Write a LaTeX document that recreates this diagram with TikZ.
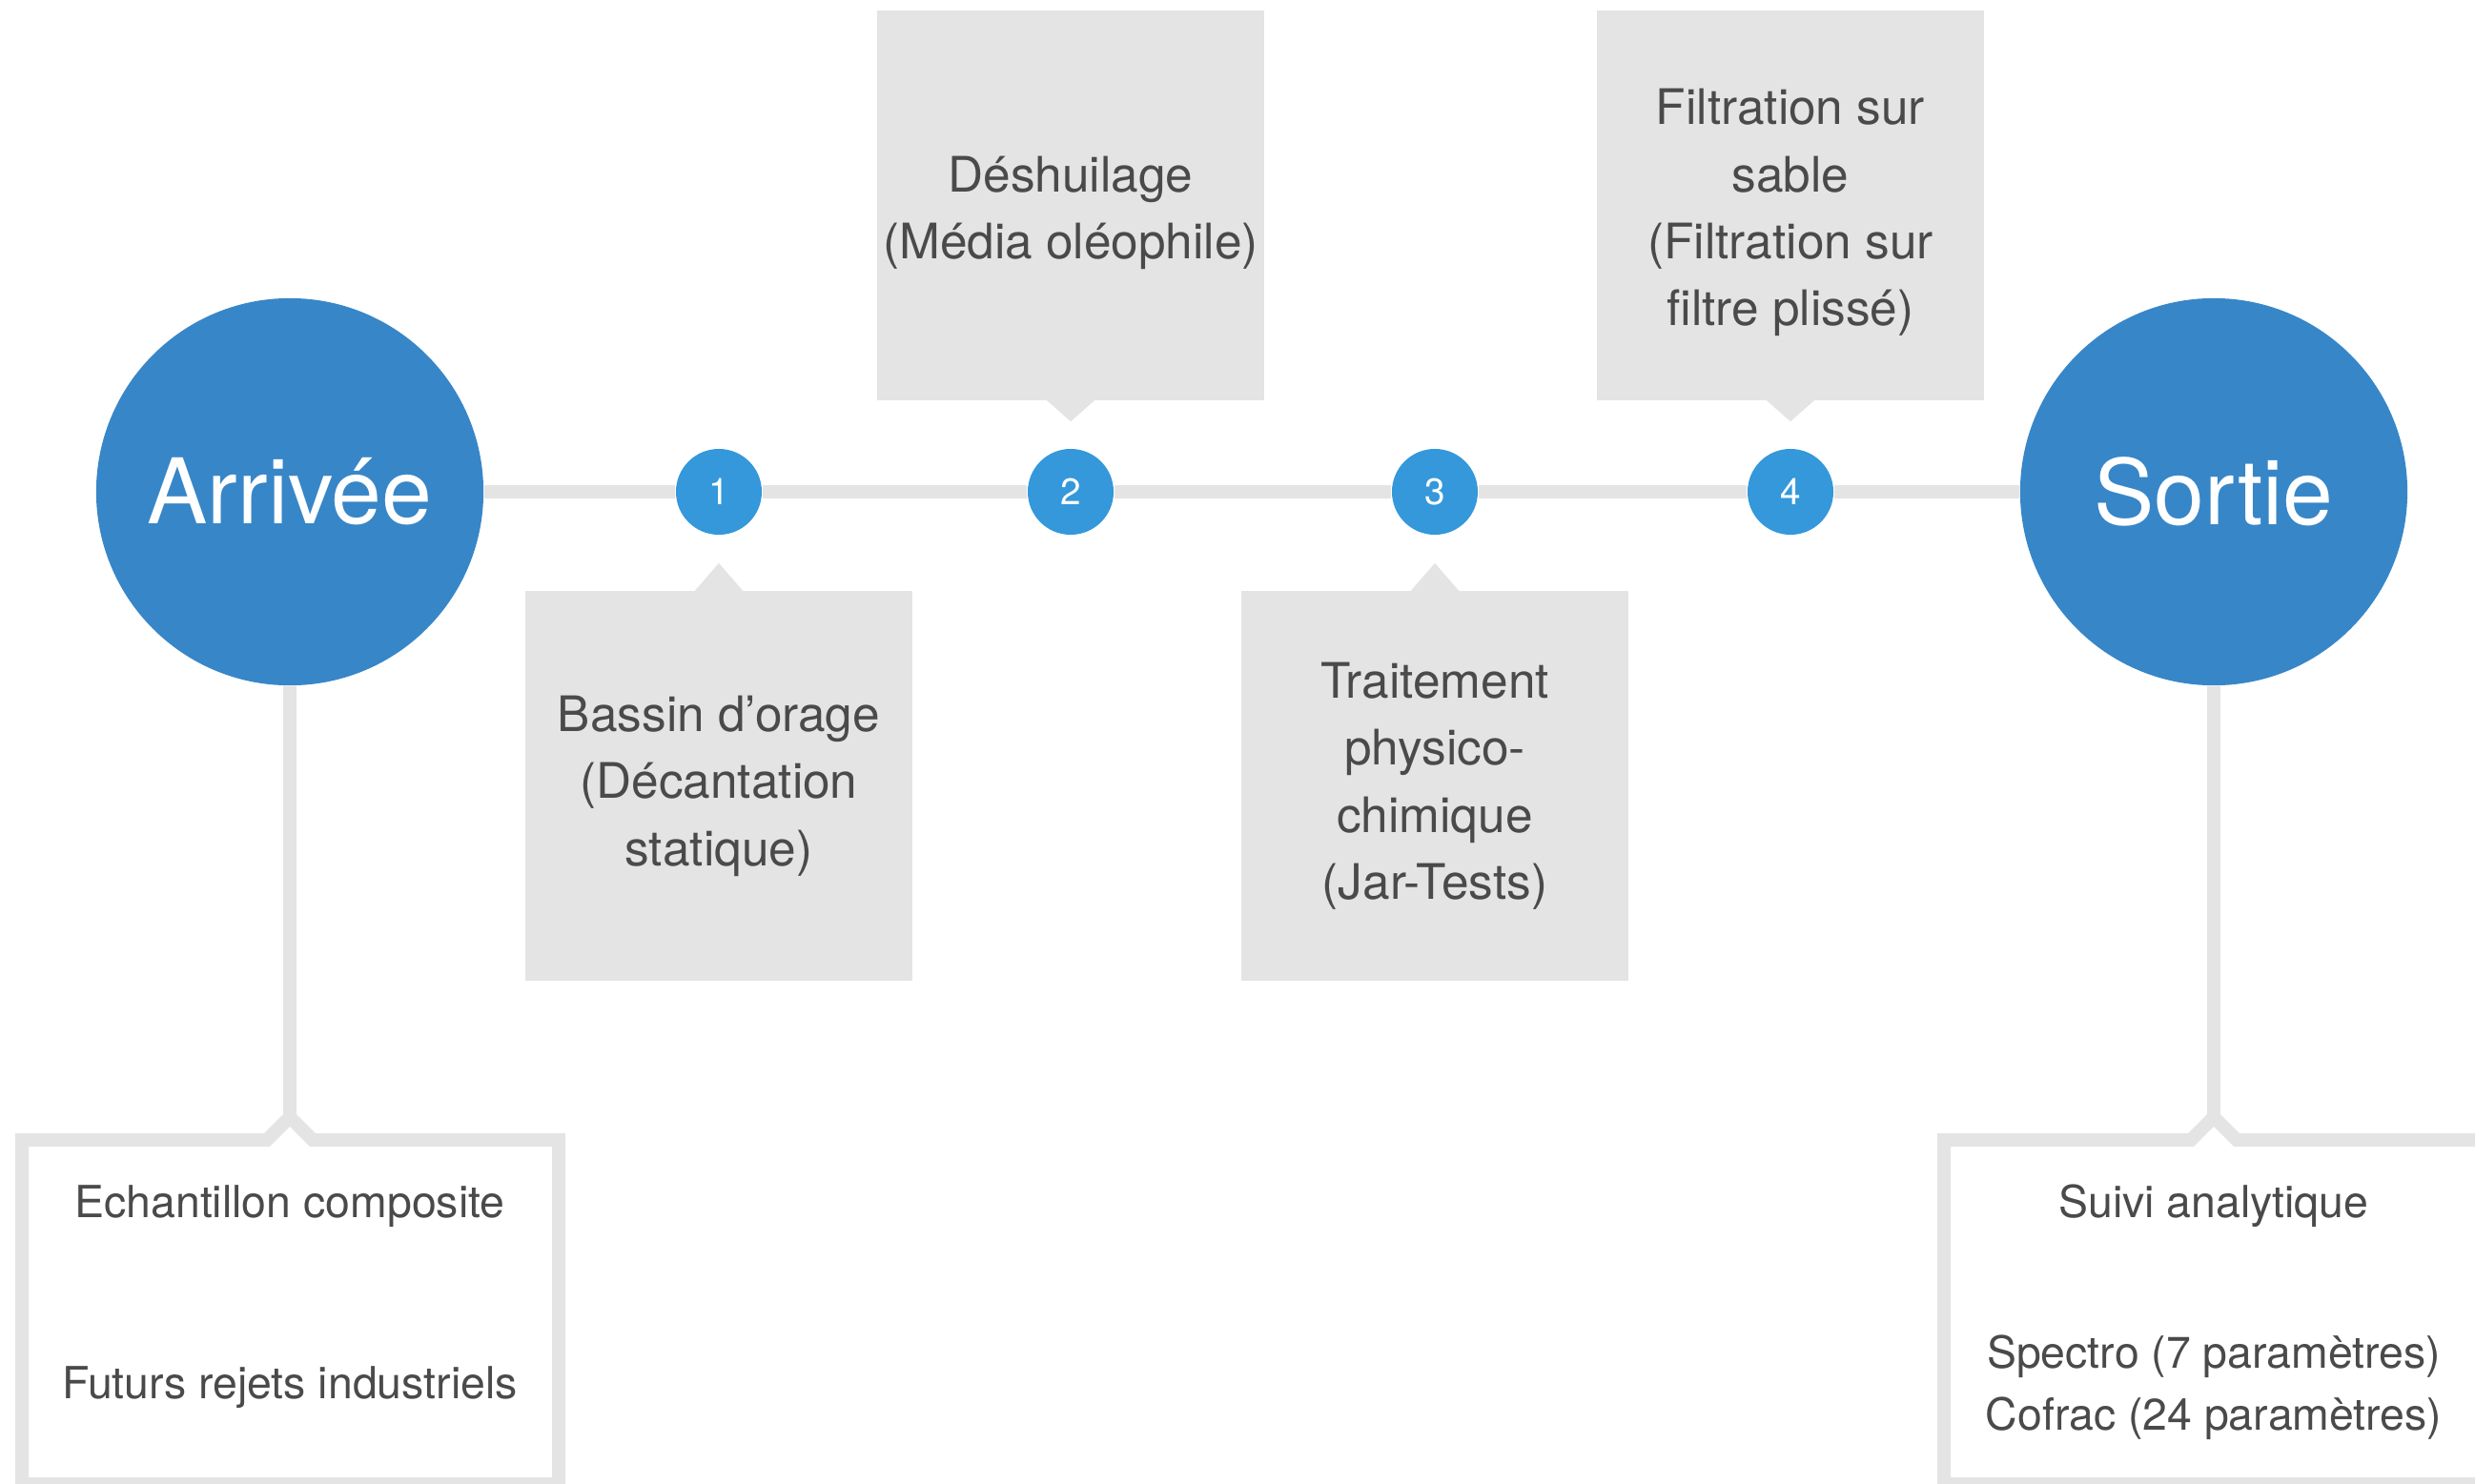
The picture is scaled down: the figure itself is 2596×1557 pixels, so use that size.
\documentclass[tikz,border=0pt]{standalone}
\usepackage{fontspec}
\setmainfont{TeX Gyre Heros}
\usepackage{xcolor}
\usepackage{tikz}
\usetikzlibrary{positioning, calc, backgrounds}

\definecolor{bigblue}{HTML}{3786C8}
\definecolor{stepblue}{HTML}{3498DB}
\definecolor{railgray}{HTML}{E4E4E4}
\definecolor{txtgray}{HTML}{4A4A4A}

\newcommand{\topstrut}{\rule{0pt}{15pt}}

\begin{document}
\begin{tikzpicture}[x=0.01cm, y=-0.01cm]
    \tikzset{
        bigdot/.style={circle, fill=bigblue, minimum size=4.06cm, inner sep=0pt, text=white, font=\fontsize{27}{32}\selectfont},
        stepdot/.style={circle, fill=stepblue, minimum size=0.9cm, inner sep=0pt, text=white, font=\fontsize{11}{13}\selectfont},
        stepbox/.style={rectangle, fill=railgray, minimum width=4.06cm, minimum height=4.08cm, inner sep=0pt, align=center, text=txtgray, font=\fontsize{14.6}{20}\selectfont},
        rail/.style={draw=railgray, line width=0.14cm},
        note/.style={anchor=base, text=txtgray, font=\fontsize{13.2}{18}\selectfont}
    }
    \useasboundingbox (0,0) rectangle (2596,1557);

    \node (Arrivee) [bigdot] at (304,516) {Arrivée};
    \node (Sortie) [bigdot] at (2322,516) {Sortie};

    \node (S1) [stepdot] at (754,516) {1};
    \node (S2) [stepdot] at (1123,516) {2};
    \node (S3) [stepdot] at (1505,516) {3};
    \node (S4) [stepdot] at (1878,516) {4};

    \node (Bassin) [stepbox, below=0.58cm of S1] {Bassin d’orage\\(Décantation\\statique)};
    \node (Deshuilage) [stepbox, above=0.5cm of S2] {\topstrut Déshuilage\\(Média oléophile)};
    \node (Traitement) [stepbox, below=0.58cm of S3] {Traitement\\physico-\\chimique\\(Jar-Tests)};
    \node (Filtration) [stepbox, above=0.5cm of S4] {\topstrut Filtration sur\\sable\\(Filtration sur\\filtre plissé)};

    % little pointers of the grey boxes
    \fill[railgray] ($(Bassin.north)+(-26,1)$) -- ($(Bassin.north)+(0,-29)$) -- ($(Bassin.north)+(26,1)$) -- cycle;
    \fill[railgray] ($(Traitement.north)+(-26,1)$) -- ($(Traitement.north)+(0,-29)$) -- ($(Traitement.north)+(26,1)$) -- cycle;
    \fill[railgray] ($(Deshuilage.south)+(-26,-1)$) -- ($(Deshuilage.south)+(0,22)$) -- ($(Deshuilage.south)+(26,-1)$) -- cycle;
    \fill[railgray] ($(Filtration.south)+(-26,-1)$) -- ($(Filtration.south)+(0,22)$) -- ($(Filtration.south)+(26,-1)$) -- cycle;

    % bottom boxes
    \coordinate (ArrTip) at (304,1172);
    \coordinate (SorTip) at (2322,1172);
    \draw[rail, fill=white] (23,1196) -- (280,1196) -- (ArrTip) -- (328,1196) -- (586,1196) -- (586,1557) -- (23,1557) -- cycle;
    \draw[rail, fill=white] (2039,1196) -- (2298,1196) -- (SorTip) -- (2346,1196) -- (2605,1196) -- (2605,1557) -- (2039,1557) -- cycle;

    \node (Echantillon) [note] at (304,1277) {Echantillon composite};
    \node (Futurs) [note] at (304,1467) {Futurs rejets industriels};
    \node (Suivi) [note] at (2322,1277) {Suivi analytique};
    \node (Spectro) [note] at (2322,1435) {Spectro (7 paramètres)};
    \node (Cofrac) [note] at (2322,1500) {Cofrac (24 paramètres)};

    \begin{scope}[on background layer]
        \path [rail] (Arrivee) -- (S1) -- (S2) -- (S3) -- (S4) -- (Sortie);
        \path [rail] (Arrivee) -- (ArrTip);
        \path [rail] (Sortie) -- (SorTip);
    \end{scope}

\end{tikzpicture}
\end{document}
